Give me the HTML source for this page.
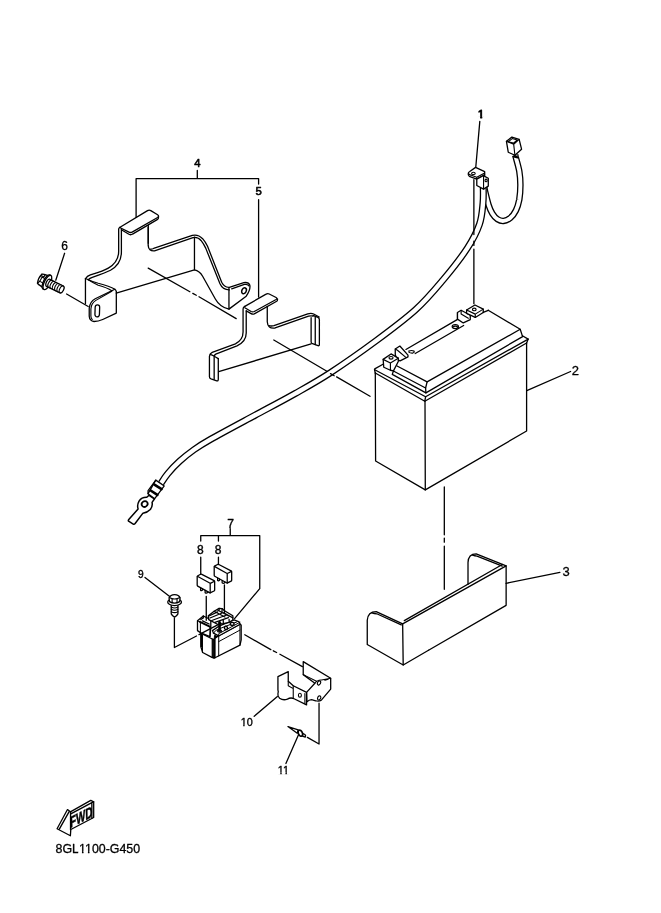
<!DOCTYPE html>
<html><head><meta charset="utf-8"><title>8GL1100-G450</title>
<style>
html,body{margin:0;padding:0;background:#fff;}
body{width:661px;height:913px;overflow:hidden;position:relative;font-family:"Liberation Sans",sans-serif;}
svg{position:absolute;left:0;top:0;display:block;}
svg path,svg line,svg ellipse,svg polyline,svg circle,svg rect,svg polygon{vector-effect:non-scaling-stroke;}
.l{fill:none;stroke:#000;stroke-width:1.3;stroke-linecap:round;stroke-linejoin:round;}
.f{fill:#fff;stroke:#000;stroke-width:1.3;stroke-linecap:round;stroke-linejoin:round;}
.t{fill:none;stroke:#000;stroke-width:0.8;stroke-linecap:round;stroke-linejoin:round;}
.k{fill:#000;stroke:none;}
svg{font-family:"Liberation Sans",sans-serif;font-size:12px;}
text{fill:#000;stroke:#000;stroke-linejoin:round;}
</style></head><body>
<svg width="661" height="913" viewBox="0 0 661 913">
<g class="l" transform="translate(80 160) scale(0.27231)">
<!-- top tab -->
<path d="M145.5,248 L248,186 Q254,182.5 260,186 L285,201 Q292,206 285,211 L193,264 Q185.6,268.5 178,264 L145.5,248"/>
<path d="M152,256 L178,272 Q185.6,277 193,272 L285,218 Q289,215 288.5,208"/>
<!-- left vertical strip double line -->
<path d="M145.5,248 Q142,250 142,254 L142,335 Q142,375 104,397 Q90,406 38,422 Q26,426 20,436"/>
<path d="M152,256 L152,338 Q152,382 112,405 Q95,414 45,431 Q36,434 30,440"/>
<!-- right side of tab strip -->
<path d="M250.8,240 L250.8,306"/>
</g>
<g class="l" transform="translate(20 220) scale(0.16641)">
<path d="M393.3,352.3 L393.3,502"/>
<path d="M578.8,430 L578.8,559.6 L497,598 Q470,610 445,610 Q418,606 416,578 L416,530 Q420,490 452,473 L570,416"/>
<g style="stroke-width:1.15">
<path d="M393.3,351 Q430,368 470,380 Q540,398 570,416 Q578,422 578.8,430"/>
<path d="M412.4,361 Q440,378 470,392.5 Q525,408 551.5,425"/>
<path d="M551.5,428 L456,483 Q428,500 426,535 L426,578 Q427,592 434,598"/>
</g>
<rect x="451" y="510" width="27" height="72" rx="13.5" ry="15" transform="rotate(2 464 546)"/>
<!-- leader bolt->bracket -->
<path d="M280,445 L410,520"/>
<!-- leader 6 -->
<path d="M268,200 L215,362"/>
</g>
<g class="l" transform="translate(0 0) scale(1.00000)">
<path style="stroke-width:1.3" d="M136.1,217.4 L136.1,178.6 L258.6,178.6 L258.6,184 M258.6,199.6 L258.6,297 M197.3,170.4 L197.3,178.6"/>
<path d="M148.2,268.1 L189.9,291.7 M192.8,293.4 L196.3,295.3 M199,296.8 L236.2,318.6"/>
</g>
<g class="l" transform="translate(0 0) scale(1.00000)">
<path d="M506.1,583.3 L559.9,572.4"/>
<path d="M526.8,390.7 L570.6,371.5"/>
<path d="M285.9,763.5 L298.4,735.1"/>
<path d="M254.2,716.3 L277.4,696.6"/>
<path d="M145,577.5 L169.7,596.5"/>
</g>
<g class="l" transform="translate(30 265) scale(0.07564)">
<g style="stroke-width:1.1" transform="translate(228,230) rotate(26)">
<!-- head -->
<path class="f" d="M-112,-66 Q-95,-80 -70,-80 L-30,-84 L-30,84 L-70,78 Q-95,78 -112,66 Q-135,0 -112,-66 Z"/>
<path d="M-112,-66 Q-90,-40 -92,0 Q-92,40 -112,66 M-92,-30 L-35,-32 M-92,30 L-35,32 M-70,-80 Q-60,-55 -92,-30"/>
<!-- flange -->
<ellipse class="f" cx="-12" cy="0" rx="40" ry="104"/>
<ellipse class="f" cx="2" cy="0" rx="40" ry="104"/>
<!-- shaft -->
<path class="f" d="M14,-52 L212,-50 A26,50 0 0 1 212,50 L14,52 A26,52 0 0 1 14,-52 Z"/>
<path d="M212,-50 A26,50 0 0 0 212,50 M45,-52 A26,51 0 0 0 45,52 M78,-52 A26,51 0 0 0 78,52 M111,-51 A26,51 0 0 0 111,51 M144,-51 A26,50 0 0 0 144,51 M177,-50 A26,50 0 0 0 177,50"/>
</g>
</g>
<g class="l" transform="translate(140 210) scale(0.18154)">
<path d="M45,95 L45,195 Q47,228 80,225 L292,152 Q318,146 338,170 Q350,185 362,210 L440,405 Q455,440 492,440"/>
<path d="M58,215 Q65,216 75,212 L288,140 Q320,132 345,158 Q360,175 372,200 L450,398 Q465,428 492,426 L572,400 Q598,396 605,415 Q610,438 585,475 L490,546 L490,428"/>
<path d="M505,434 L575,410 Q592,408 600,418"/>
<path d="M300,150 L300,330 L-131,458"/>
<path d="M300,330 Q328,335 345,365 L415,490 Q440,535 490,546"/>
<ellipse cx="573" cy="445" rx="12" ry="17" transform="rotate(25 573 445)" style="stroke-width:1.5"/>
</g>
<g class="l" transform="translate(200 280) scale(0.19667)">
<!-- top tab -->
<path d="M228,134 L336,72 Q344,67 352,71 L387,89 Q395,94 387,99 L276,160 Q268,164 260,160 L228,141"/>
<path d="M235,157 L260,171 Q268,176 276,172 L390,108 Q395,105 394,96"/>
<!-- left strip -->
<path d="M228,134 Q219,138 219,148 L219,265 Q219,305 180,325 L62,368 Q50,373 48,388 L48,492 Q48,500 56,503 L85,513 Q93,515 93,505 L93,400"/>
<path d="M235,157 L235,270 Q235,314 188,335 L80,377 Q72,381 72,392 L72,505"/>
<path d="M52,378 Q62,380 93,400"/>
<!-- right -->
<path d="M342,134 L342,212 Q344,250 382,244 L552,184 Q566,180 575,184 M575,180 L600,190 Q607,194 607,202 L607,328 Q607,336 600,334 L572,324 Q565,322 565,314 L565,192"/>
<path d="M350,232 Q362,236 376,232 L548,172 Q566,167 578,173 L606,188"/>
<path d="M586,186 L586,328"/>
<path d="M95,466 L565,325"/>
</g>
<g class="l" transform="translate(0 0) scale(1.00000)">
<path d="M484.0,185.0 C484.2,186.0 484.2,187.7 485.0,191.0 C485.8,194.3 487.4,201.2 488.6,205.0 C489.8,208.8 490.8,211.1 492.3,213.5 C493.8,215.9 495.6,218.0 497.5,219.2 C499.4,220.4 501.5,221.1 503.6,220.9 C505.7,220.7 508.1,219.7 510.2,218.0 C512.2,216.3 514.4,213.6 515.9,210.5 C517.4,207.4 518.5,203.8 519.3,199.6 C520.0,195.4 520.4,189.8 520.4,185.1 C520.4,180.4 520.1,175.9 519.3,171.2 C518.5,166.5 516.4,159.7 515.7,157.0 C515.0,154.3 515.3,155.3 515.2,155.0" style="stroke-width:6.5;stroke-linecap:butt"/>
<path d="M484.0,185.0 C484.2,186.0 484.2,187.7 485.0,191.0 C485.8,194.3 487.4,201.2 488.6,205.0 C489.8,208.8 490.8,211.1 492.3,213.5 C493.8,215.9 495.6,218.0 497.5,219.2 C499.4,220.4 501.5,221.1 503.6,220.9 C505.7,220.7 508.1,219.7 510.2,218.0 C512.2,216.3 514.4,213.6 515.9,210.5 C517.4,207.4 518.5,203.8 519.3,199.6 C520.0,195.4 520.4,189.8 520.4,185.1 C520.4,180.4 520.1,175.9 519.3,171.2 C518.5,166.5 516.4,159.7 515.7,157.0 C515.0,154.3 515.3,155.3 515.2,155.0" style="stroke:#fff;stroke-width:3.9000000000000004;stroke-linecap:butt"/>
<path d="M483.3,188.0 C483.2,190.5 483.6,197.0 483.0,203.0 C482.4,209.0 482.1,216.6 479.5,224.2 C476.9,231.8 473.3,239.1 467.2,248.4 C461.1,257.7 451.6,269.8 443.0,280.0 C434.4,290.2 426.5,299.8 415.4,309.9 C404.2,320.0 390.3,330.3 376.1,340.8 C361.9,351.3 343.5,364.2 330.0,373.0 C316.5,381.8 307.5,386.6 295.0,393.6 C282.5,400.7 269.0,407.7 254.9,415.3 C240.8,422.9 220.7,433.6 210.5,439.4 C200.3,445.2 198.7,446.4 193.6,450.0 C188.5,453.6 184.0,457.3 179.7,461.2 C175.4,465.1 171.0,469.8 167.9,473.5 C164.8,477.2 162.2,481.6 161.1,483.2" style="stroke-width:7.0;stroke-linecap:butt"/>
<path d="M483.3,188.0 C483.2,190.5 483.6,197.0 483.0,203.0 C482.4,209.0 482.1,216.6 479.5,224.2 C476.9,231.8 473.3,239.1 467.2,248.4 C461.1,257.7 451.6,269.8 443.0,280.0 C434.4,290.2 426.5,299.8 415.4,309.9 C404.2,320.0 390.3,330.3 376.1,340.8 C361.9,351.3 343.5,364.2 330.0,373.0 C316.5,381.8 307.5,386.6 295.0,393.6 C282.5,400.7 269.0,407.7 254.9,415.3 C240.8,422.9 220.7,433.6 210.5,439.4 C200.3,445.2 198.7,446.4 193.6,450.0 C188.5,453.6 184.0,457.3 179.7,461.2 C175.4,465.1 171.0,469.8 167.9,473.5 C164.8,477.2 162.2,481.6 161.1,483.2" style="stroke:#fff;stroke-width:4.4;stroke-linecap:butt"/>
</g>
<g class="l" transform="translate(115 460) scale(0.10590)">
<g style="stroke-width:1.2">
<!-- tail + ring -->
<path class="f" d="M218,462 L128,565 Q122,575 132,580 L172,605 Q182,610 190,600 L264,502 Q305,498 333,468 Q358,438 350,400 L372,368 L322,333 L300,352 Q252,350 227,388 Q206,425 218,462 Z" style="stroke-width:1.5"/>
<ellipse cx="280" cy="415" rx="29" ry="26" transform="rotate(-40 280 415)" style="stroke-width:1.7"/>
<!-- crimp -->
<path class="f" d="M385,190 L465,245 L375,365 L312,318 Z"/>
<path d="M372,232 L440,275 M340,290 L400,330" style="stroke-width:2.6"/>
<path d="M385,190 L312,290 L312,318"/>
</g>
</g>
<g class="l" transform="translate(455 125) scale(0.12103)">
<g style="stroke-width:1.1">
<!-- eyelet plate -->
<path class="f" d="M170,350 L245,385 L245,412 L180,447 L118,424 Q106,415 110,398 Q112,390 122,384 Z"/>
<path d="M112,402 Q118,410 130,414 L180,432 L245,396 M180,432 L180,447"/>
<ellipse cx="152" cy="400" rx="15" ry="9"/>
<!-- connector body -->
<path class="f" d="M180,447 L180,500 L236,530 L275,505 L275,440 L245,425 L245,412 Z"/>
<path d="M236,418 L236,528"/>
<ellipse cx="257" cy="458" rx="9" ry="11"/>
<!-- right connector -->
<path class="f" d="M425,135 L470,100 L530,118 L550,200 L495,250 L440,225 Z"/>
<path d="M425,135 L485,160 L530,118 M485,160 L495,250 M440,138 L472,112 L515,124 L483,150 Z"/>
<path d="M485,262 L518,270 M490,255 L512,262" style="stroke-width:1.8"/>
</g>
<!-- vertical centre line -->
<path d="M156,451 L156,905 M156,960 L156,995 M156,1025 L156,1476"/>
<path d="M205,-30 L172,345"/>
</g>
<g class="l" transform="translate(0 0) scale(1.00000)">
<path d="M273.8,340 L326.9,371.2 M330.5,373.6 L334.2,375.7 M336.6,376.9 L370,396.3"/>
</g>
<g class="l" transform="translate(0 0) scale(1.00000)">
<!-- body -->
<path d="M375.3,373 L375.6,461 L425.3,489.9 L526.6,431 L526.6,343"/>
<path d="M425,401.2 L425.3,489.9"/>
<!-- rim -->
<path d="M375.3,373 L424.8,401.2 L526.6,343"/>
<path d="M383,364.3 L375.2,368.6 Q374.2,369.3 375.2,370 L425.6,396.8 L528.2,339.1 L522.4,335.8"/>
<path d="M374.5,369.5 L375.3,373 M425.6,396.8 L424.8,401.2 M528.2,339.1 L526.6,343"/>
<!-- cover -->
<path d="M397.1,366 L427.1,381.9 L520.2,329.3 L488.2,310.3"/>
<path d="M393.4,371 L425.6,388 M392.3,374.4 L425.9,392.9 L522.6,336.6 L520.2,329.3 M393.4,371 L392.3,374.4"/>
<path d="M427.1,381.9 L425.6,388 L425.9,392.9"/>
</g>
<g class="l" transform="translate(355 470) scale(0.27231)">
<path d="M415,420 L415,340 Q416,308 445,308 L555,352 L555,497 L270,662"/>
<path d="M555,352 L175,565 M541,347 L181,553"/>
<path d="M432,313 Q440,316 448,316 L541,353"/>
<path d="M45,641 L45,552 Q47,520 78,520 L175,565 L177,716 L45,641"/>
<path d="M62,525 Q70,528 80,528 L170,569"/>
<path d="M177,716 L270,662"/>
<!-- centre line battery->tray -->
<path d="M328,62 L328,238 M328,250 L328,265 M328,280 L328,438"/>
</g>
<g class="l" transform="translate(365 340) scale(0.12103)">
<g style="stroke-width:1.15">
<!-- block behind terminal -->
<path class="f" d="M250,120 L250,75 L288,50 L355,125 L355,140 L290,172 L262,160 Z"/>
<path d="M268,85 L335,142 M250,75 L268,85"/>
<!-- left terminal -->
<path class="f" d="M150,160 L215,115 L275,150 L275,178 L235,255 L210,250 L155,225 Z"/>
<path d="M150,160 L210,190 L275,150 M210,190 L210,250"/>
<ellipse cx="215" cy="147" rx="17" ry="11"/>
<!-- small tab -->
<path d="M362,92 Q385,82 405,92 Q412,102 395,108 Q375,110 362,100"/>
</g>
<!-- groove lines -->
<path d="M338,78 L765,-170 M415,112 L815,-120"/>
</g>
<g class="l" transform="translate(430 285) scale(0.16641)">
<g style="stroke-width:1.15">
<!-- right block -->
<path class="f" d="M165,165 L187,152 L242,182 L242,208 L200,228 L165,205 Z"/>
<path d="M165,205 L165,165 M187,152 L187,175 L230,200"/>
<!-- right terminal -->
<path class="f" d="M220,150 L270,120 L320,145 L320,165 L272,195 L220,170 Z"/>
<path d="M220,150 L272,175 L320,145 M272,175 L272,195"/>
<ellipse cx="266" cy="147" rx="11" ry="8"/>
<ellipse cx="152" cy="250" rx="19" ry="12"/>
<path d="M135,255 Q152,240 170,255" />
</g>
<path d="M320,165 L350,152"/>
</g>
<g class="l" transform="translate(150 510) scale(0.19667)">
<!-- bracket 7/8 -->
<path d="M408,95 L408,130 M258,158 L258,130 L558,130 L558,400 L430,552 M348,130 L348,158 M258,240 L258,325 M348,240 L348,278"/>
<!-- bolt 9 -->
<g style="stroke-width:1.1">
<path class="f" d="M108,480 L108,528 Q112,536 125,545 Q138,536 142,528 L142,480 Z"/>
<path d="M108,493 Q125,503 142,493 M108,505 Q125,515 142,505 M108,517 Q125,527 142,517"/>
<ellipse class="f" cx="125" cy="468" rx="35" ry="18"/>
<path class="f" d="M99,466 L97,447 Q104,430 125,430 Q147,430 153,447 L151,466 Q125,481 99,466 Z"/>
<path d="M98,445 Q125,460 152,445 M112,452 L113,470 M138,452 L137,470"/>
</g>
</g>
<g class="l" transform="translate(190 600) scale(0.08321)">
<g style="stroke-width:1.0">
<!-- lower body -->
<path class="f" d="M130,400 L130,560 L152,631 L264,690 L294,697 L601,543 L615,480 L615,300 L600,290 L345,430 L280,475 Z"/>
<path d="M150,420 L150,628 M345,432 L345,672 M600,300 L600,543 M345,500 L600,362"/>
<path d="M268,470 L268,692 M285,478 L285,696 M300,470 L300,694" style="stroke-width:1.3"/>
<path d="M138,410 L138,560" style="stroke-width:1.5"/>
<!-- cap -->
<path class="f" d="M270,368 L355,310 L530,240 L590,262 L602,292 L345,432 L282,398 Z"/>
<path d="M282,398 Q300,360 355,345 L560,265" />
<path d="M345,432 L345,405 L600,268" />
<!-- left connector -->
<path class="f" d="M90,250 L160,192 L250,235 L250,330 L240,440 L130,395 L90,368 Z"/>
<path d="M240,320 L240,440 M90,250 L125,268 L125,392"/>
<path d="M120,262 L238,320" style="stroke-width:2"/>
<path d="M160,192 L160,215 L130,235 M150,250 L230,288" style="stroke-width:1.3"/>
<!-- top fuse holder -->
<path class="f" d="M220,190 L290,135 L350,100 L385,103 L415,130 L515,190 L515,240 L470,268 L400,285 L330,292 L225,235 Z"/>
<path d="M228,192 L332,142 M240,216 L400,150 M262,246 L440,180 M300,268 L462,212 M290,135 L420,205 M330,120 L470,195 M350,100 L350,125 M385,103 L385,140 M415,130 L415,160 L515,215 M470,232 L470,268 M400,245 L400,285" style="stroke-width:1.25"/>
<!-- stud -->
<ellipse class="f" cx="355" cy="372" rx="24" ry="13"/>
<path d="M355,268 L355,368" style="stroke-width:2.6"/>
<ellipse class="f" cx="432" cy="335" rx="18" ry="21" transform="rotate(-20 432 335)" style="stroke-width:1.4"/>
<path class="f" d="M485,275 Q505,262 528,275 L528,300 Q508,312 487,300 Z" style="stroke-width:1.4"/>
<path d="M300,430 L315,438 M296,445 L306,450" style="stroke-width:1.8"/>
</g>
<!-- centre lines -->
</g>
<g class="l" transform="translate(235 650) scale(0.16641)">
<!-- centre line from relay -->

<g style="stroke-width:1.1">
<!-- back plate -->
<path class="f" d="M410,70 L575,170 L575,235 L520,300 Q505,312 485,305 L460,298 Q445,298 432,312 L430,255 L480,200 L410,148 Z"/>
<path d="M410,148 L490,188 M480,200 Q495,178 520,180 L575,170 M540,182 L560,175"/>
<ellipse cx="505" cy="198" rx="9" ry="13" transform="rotate(25 505 198)"/>
<ellipse cx="506" cy="288" rx="9" ry="13" transform="rotate(25 506 288)"/>
<!-- front piece -->
<path class="f" d="M258,160 L320,130 L320,188 L350,215 L430,255 L430,330 L355,293 Q335,283 315,295 Q290,305 268,290 Q255,278 258,262 Q262,250 258,240 Z"/>
<path d="M350,215 L350,290 M320,188 L320,215 L350,232 M420,262 L420,322"/>
<ellipse cx="390" cy="272" rx="9" ry="12"/>
</g>
<!-- line to rivet -->
<path d="M505,320 L505,565 L435,525"/>
<!-- rivet 11 -->
<g style="stroke-width:1.1">
<path class="f" d="M318,460 L380,480 L374,500 Z"/>
<path class="f" d="M400,498 L420,508 Q428,516 422,524 L402,516 Z"/>
<ellipse class="f" cx="393" cy="500" rx="12" ry="19" transform="rotate(-25 393 500)" style="stroke-width:1.7"/>
</g>
</g>
<g class="l" transform="translate(190 560) scale(0.07564)">
<g style="stroke-width:1.25">
<path class="f" d="M95,222 Q95,212 104,208 L140,189 Q147,186 156,190 L318,273 Q326,278 326,288 L326,398 Q326,406 318,410 L272,432 Q265,436 257,431 L102,345 Q95,341 95,332 Z"/>
<path d="M97,214 L260,305 Q267,309 275,305 L324,281 M267,309 L267,434"/>
<path d="M140,368 L140,400 Q150,412 165,398 L165,382 M200,402 L200,432 Q215,446 235,430 L235,420"/>
<path class="f" d="M320,92 Q320,82 329,78 L365,59 Q372,56 381,60 L543,143 Q551,148 551,158 L551,268 Q551,276 543,280 L497,302 Q490,306 482,301 L327,215 Q320,211 320,202 Z"/>
<path d="M322,84 L485,175 Q492,179 500,175 L549,151 M492,179 L492,304"/>
<path d="M365,238 L365,270 Q375,282 390,268 L390,252 M425,272 L425,302 Q440,316 460,300 L460,290"/>
</g>
<path d="M215,480 L215,798 M455,330 L455,672"/>
</g>
<g class="l" transform="translate(0 0) scale(1.00000)">
<path d="M174.4,617.8 L174.4,647.5 L196.5,636 M199,634.6 L221,623.2"/>
<path d="M244.8,634.8 L270.8,649.6 M273.3,650.8 L276.6,652.5 M279.9,654.2 L302.4,666.6"/>
</g>
<g class="l" transform="translate(50 795) scale(0.08321)">
<g style="stroke-width:1.35">
<path class="f" d="M85,405 L210,175 L245,202 L490,65 L525,82 L525,270 L250,415 L245,490 Z"/>
<path d="M112,410 L230,200 M247,202 L247,418 M250,226 L503,92 L503,278 M503,92 L525,82"/>
</g>
</g>
<g>
<defs>
<clipPath id="c1" clipPathUnits="userSpaceOnUse"><path clip-rule="evenodd" d="M472.8,104.7H677.8V123.3H472.8Z M476.66,116.33H480.19V119.30H476.66Z M482.22,116.33H485.66V119.30H482.22Z "/></clipPath>
<clipPath id="c2" clipPathUnits="userSpaceOnUse"><path clip-rule="evenodd" d="M235.7,713.6H440.7V731.4H235.7Z M239.79,724.77H243.18V727.12H239.79Z M244.59,724.77H247.90V727.12H244.59Z "/></clipPath>
<clipPath id="c3" clipPathUnits="userSpaceOnUse"><path clip-rule="evenodd" d="M272.8,761.2H477.8V779.0H272.8Z M276.89,772.37H280.29V774.73H276.89Z M281.69,772.37H285.49V774.73H281.69Z M286.89,772.37H290.20V774.73H286.89Z "/></clipPath>
<clipPath id="c4" clipPathUnits="userSpaceOnUse"><path clip-rule="evenodd" d="M50.6,838.8H255.6V858.2H50.6Z M78.28,851.47H81.96V853.90H78.28Z M83.45,851.47H87.93V853.90H83.45Z M89.43,851.47H93.00V853.90H89.43Z "/></clipPath>
</defs>
<g style="filter:grayscale(1)">
<text x="477.77" y="118.30" clip-path="url(#c1)" style="font-size:11.6px;stroke-width:0.9px">1</text>
<text x="571.69" y="374.80" style="font-size:13.0px;stroke-width:0.3px">2</text>
<text x="562.49" y="576.20" style="font-size:13.0px;stroke-width:0.3px">3</text>
<text x="194.16" y="166.80" style="font-size:11.3px;stroke-width:0.6px">4</text>
<text x="255.46" y="195.30" style="font-size:11.3px;stroke-width:0.6px">5</text>
<text x="61.26" y="250.30" style="font-size:12.0px;stroke-width:0.3px">6</text>
<text x="227.21" y="527.80" style="font-size:12.2px;stroke-width:0.35px">7</text>
<text x="196.96" y="553.80" style="font-size:12.0px;stroke-width:0.4px">8</text>
<text x="214.86" y="553.80" style="font-size:12.0px;stroke-width:0.4px">8</text>
<text x="137.96" y="578.00" style="font-size:10.2px;stroke-width:0.35px">9</text>
<text x="240.69" y="726.40" clip-path="url(#c2)" style="font-size:10.8px;stroke-width:0.35px">10</text>
<text x="277.79" y="774.00" clip-path="url(#c3)" style="font-size:10.8px;stroke-width:0.35px">11</text>
<text x="55.6" y="853.2" clip-path="url(#c4)" style="font-size:12.4px;stroke-width:0.3px">8GL1100-G450</text>
<text transform="matrix(0.63 -0.33 0.03 1 70.3 828.1)" style="font-size:15.5px;font-weight:bold;stroke-width:0.5px">FWD</text>
</g>
</g>
</svg>
</body></html>
